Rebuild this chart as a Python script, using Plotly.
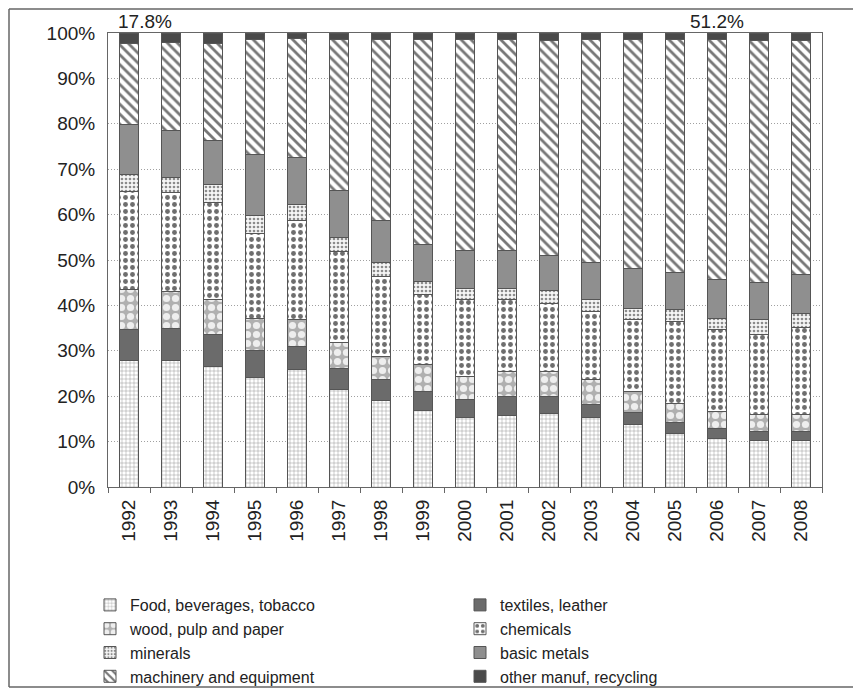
import plotly.graph_objects as go

years = [str(y) for y in range(1992, 2009)]

food = [27.9, 27.8, 26.6, 24.1, 25.8, 21.5, 19.1, 16.8, 15.2, 15.8, 16.1, 15.2, 13.8, 11.7, 10.7, 10.3, 10.3]
textiles = [6.9, 7.2, 7.1, 6.0, 5.1, 4.5, 4.6, 4.3, 4.0, 4.1, 3.8, 2.9, 2.6, 2.5, 2.1, 1.9, 1.9]
wood = [8.7, 8.1, 7.5, 7.1, 5.9, 5.8, 5.1, 5.8, 5.2, 5.6, 5.6, 5.6, 4.7, 4.3, 3.8, 3.7, 3.7]
chemicals = [21.6, 21.7, 21.5, 18.7, 21.9, 20.0, 17.5, 15.5, 17.0, 15.7, 15.0, 14.9, 15.7, 18.0, 18.2, 17.6, 19.3]
minerals = [3.7, 3.4, 3.9, 4.0, 3.5, 3.2, 3.2, 2.8, 2.3, 2.5, 2.8, 2.8, 2.5, 2.6, 2.4, 3.3, 3.0]
basic_metals = [11.1, 10.3, 9.7, 13.4, 10.4, 10.2, 9.2, 8.2, 8.4, 8.4, 7.7, 8.0, 8.9, 8.2, 8.4, 8.3, 8.6]
machinery = [17.8, 19.4, 21.3, 25.2, 26.1, 33.4, 39.9, 45.2, 46.5, 46.5, 47.3, 49.2, 50.4, 51.3, 53.0, 53.2, 51.5]
other = [2.3, 2.1, 2.4, 1.5, 1.3, 1.4, 1.4, 1.4, 1.4, 1.4, 1.7, 1.4, 1.4, 1.4, 1.4, 1.7, 1.7]

labels = ["Food, beverages, tobacco", "textiles, leather", "wood, pulp and paper", "chemicals",
          "minerals", "basic metals", "machinery and equipment", "other manuf, recycling"]
series = [food, textiles, wood, chemicals, minerals, basic_metals, machinery, other]
notes = [("17.8%", "1992"), ("51.2%", "2006")]

FONT = "Liberation Sans, Arial, sans-serif"

styles = [
    dict(color="#ffffff", pattern=dict(shape="+", size=4, solidity=0.2, fgcolor="#8a8a8a", bgcolor="#ffffff", fillmode="replace")),
    dict(color="#6b6b6b"),
    dict(color="#b5b5b5", pattern=dict(shape=".", size=9, solidity=0.5, fgcolor="#eeeeee", bgcolor="#b0b0b0", fillmode="replace")),
    dict(color="#ffffff", pattern=dict(shape=".", size=7, solidity=0.38, fgcolor="#6e6e6e", bgcolor="#ffffff", fillmode="replace")),
    dict(color="#ffffff", pattern=dict(shape=".", size=4, solidity=0.35, fgcolor="#8c8c8c", bgcolor="#f6f6f6", fillmode="replace")),
    dict(color="#8f8f8f"),
    dict(color="#ffffff", pattern=dict(shape="\\", size=7, solidity=0.4, fgcolor="#777777", bgcolor="#ffffff", fillmode="replace")),
    dict(color="#4a4a4a"),
]
legend_of = ["legend", "legend2", "legend", "legend2", "legend", "legend2", "legend", "legend2"]

fig = go.Figure()
for name, vals, st, lg in zip(labels, series, styles, legend_of):
    fig.add_trace(go.Bar(
        x=years, y=vals, name=name, legend=lg,
        marker=dict(line=dict(color="#555555", width=1), **st),
        width=0.43,
    ))

# the page body has an 8px margin; work in page pixels and convert
OFF = 8
W, H = 861 - OFF, 691 - OFF
L, T = 108 - OFF, 33 - OFF
R = W - (822 - OFF)
B = H - (487 - OFF)
pw, ph = W - L - R, H - T - B

def px_x(p):
    return (p - OFF - L) / pw

def px_y(p):
    return (H - B - (p - OFF)) / ph

for txt, yr in notes:
    fig.add_annotation(x=years.index(yr), xref="x", y=px_y(21), yref="paper", yanchor="middle",
                       xanchor="center", text=txt, showarrow=False,
                       xshift=16 if yr == "1992" else 0,
                       font=dict(size=19, color="#222222", family=FONT))

border = "#666666"
top_y = px_y(OFF + 1)
fig.add_shape(type="line", xref="paper", yref="paper", x0=px_x(OFF + 1), x1=px_x(858), y0=top_y, y1=top_y, line=dict(color=border, width=1.5))
fig.add_shape(type="line", xref="paper", yref="paper", x0=px_x(OFF + 1), x1=px_x(OFF + 1), y0=top_y, y1=px_y(687), line=dict(color=border, width=1.5))
fig.add_shape(type="line", xref="paper", yref="paper", x0=px_x(OFF + 1), x1=px_x(858), y0=px_y(687), y1=px_y(687), line=dict(color=border, width=1.5))

legend_common = dict(orientation="v", traceorder="normal", yanchor="top", xanchor="left",
                     font=dict(size=16, color="#222222", family=FONT), bgcolor="rgba(0,0,0,0)",
                     itemclick=False, tracegroupgap=0)

fig.update_layout(
    width=W, height=H,
    margin=dict(l=L, r=R, t=T, b=B, autoexpand=False),
    barmode="stack",
    paper_bgcolor="#ffffff", plot_bgcolor="#ffffff",
    font=dict(family=FONT, color="#222222"),
    legend=dict(x=px_x(90), y=px_y(588), **legend_common),
    legend2=dict(x=px_x(460), y=px_y(588), **legend_common),
    xaxis=dict(type="category", tickangle=-90, tickfont=dict(size=19, family=FONT, color="#222222"),
               showline=True, linecolor="#666666", linewidth=1, mirror=True,
               ticks="outside", tickson="boundaries", ticklen=5, tickcolor="#666666",
               ticklabelstandoff=4, showgrid=False),
    yaxis=dict(range=[0, 100], dtick=10, ticksuffix="%", tickfont=dict(size=19, family=FONT, color="#222222"),
               showline=True, linecolor="#666666", linewidth=1, mirror=True,
               showgrid=True, gridcolor="#a0a0a0", griddash="1px,2px", gridwidth=1,
               ticks="", ticklabelstandoff=8, zeroline=False),
    showlegend=True,
)

fig.write_html("out.html")
